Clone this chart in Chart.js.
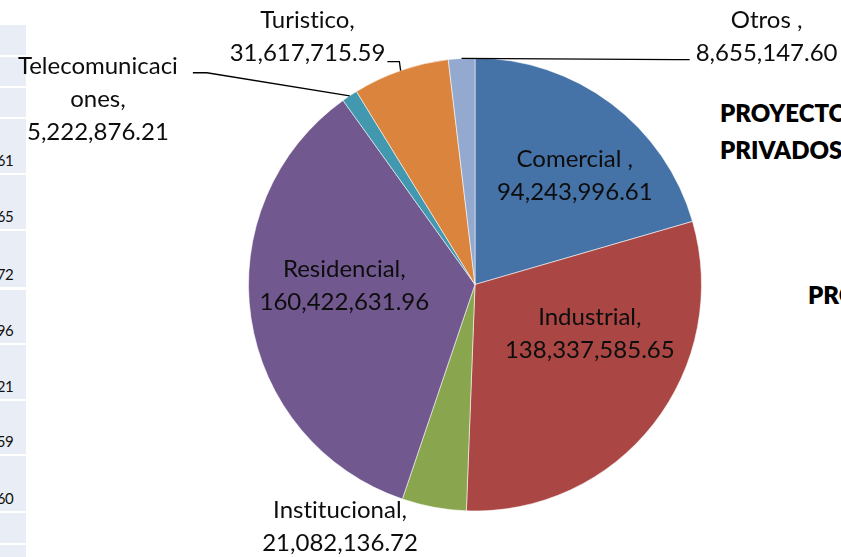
<!DOCTYPE html>
<html>
<head>
<meta charset="utf-8">
<script src="https://cdn.jsdelivr.net/npm/chart.js@4/dist/chart.umd.min.js"></script>
<style>
  html, body { margin: 0; padding: 0; background: #ffffff; }
  #wrap { position: relative; width: 841px; height: 557px; overflow: hidden; background: #ffffff; }
  #sheet { position: absolute; left: 0; top: 0; width: 841px; height: 557px; }
  .cell { position: absolute; left: 0; width: 26px; background: #E9EDF5; }
  .cell span { position: absolute; right: 13px; bottom: 5px; white-space: nowrap; font-variant-ligatures: none;
               font-family: "Lato", "Open Sans", sans-serif; font-size: 15px; letter-spacing: -0.6px;
               color: #111; line-height: 1; }
  .hdr { position: absolute; font-family: "Lato", "Open Sans", sans-serif; font-weight: 800;
         font-size: 24px; color: #000; white-space: nowrap; line-height: 37px; }
  #c { position: absolute; left: 0; top: 0; }
</style>
</head>
<body>
<div id="wrap">
  <div id="sheet"></div>
  <canvas id="c" width="841" height="557"></canvas>
</div>
<script>
// ---- data ----
const categories = ["Comercial ", "Industrial", "Institucional", "Residencial", "Telecomunicaciones", "Turistico", "Otros "];
const values = [94243996.61, 138337585.65, 21082136.72, 160422631.96, 5222876.21, 31617715.59, 8655147.60];
const colors = ["#4572A7", "#AA4643", "#89A54E", "#71588F", "#4198AF", "#DB843D", "#93A9CF"];
const sheetHeaderLines = ["PROYECTOS", "PRIVADOS"];
const sheetHeader2 = "PROYECTOS";

const fmt = v => v.toLocaleString("en-US", {minimumFractionDigits: 2, maximumFractionDigits: 2});
const noLig = s => s.replace(/t(?=[ifl])/g, "t\u200C").replace(/f(?=[ifl])/g, "f\u200C");

// ---- spreadsheet background (cells of the column behind the chart) ----
const sheet = document.getElementById("sheet");
const rows = [[25,30],[57,29],[88,29],[119,54],[175,54],[231,56],[290,53],[345,54],[401,53],[456,55],[513,30],[545,20]];
rows.forEach((r, i) => {
  const d = document.createElement("div");
  d.className = "cell";
  d.style.top = r[0] + "px";
  d.style.height = r[1] + "px";
  const vi = i - 3;
  if (vi >= 0 && vi < values.length) {
    const s = document.createElement("span");
    s.textContent = fmt(values[vi]);
    d.appendChild(s);
  }
  sheet.appendChild(d);
});
const h1 = document.createElement("div");
h1.className = "hdr"; h1.style.left = "720px"; h1.style.top = "94px";
h1.innerHTML = sheetHeaderLines.join("<br>");
sheet.appendChild(h1);
const h2 = document.createElement("div");
h2.className = "hdr"; h2.style.left = "808px"; h2.style.top = "276px";
h2.textContent = sheetHeader2;
sheet.appendChild(h2);

// ---- label layout (angle from top clockwise, radius factor, leader) ----
const labelLayout = [
  {ang: 42.5,  rf: 0.652},
  {ang: 113.1, rf: 0.551},
  {ang: 209.1, rf: 1.225},
  {ang: 269.6, rf: 0.577},
  {ang: 296.1, rf: 1.854, wrap: 14, leader: {side: "right", line: 0, gap: 15, dy: 6, elbow: 14}},
  {ang: 325.9, rf: 1.319, leader: {side: "right", line: 1, gap: 2, dy: 8, elbow: 12}},
  {ang: 49.7,  rf: 1.688, leader: {side: "left", line: 1, gap: 6, dy: 6, elbow: 14}}
];

const FONT = '24px "Lato", "Open Sans", sans-serif';
const LINE_H = 33;

const labelPlugin = {
  id: "pieLabels",
  afterDatasetsDraw(chart) {
    const ctx = chart.ctx;
    const meta = chart.getDatasetMeta(0);
    ctx.save();
    ctx.font = FONT;
    ctx.fillStyle = "#0d0d0d";
    ctx.strokeStyle = "#000";
    ctx.lineWidth = 1.3;
    ctx.textAlign = "center";
    ctx.textBaseline = "middle";
    meta.data.forEach((arc, i) => {
      const L = labelLayout[i];
      const {x, y, startAngle, endAngle, outerRadius} = arc.getProps(["x","y","startAngle","endAngle","outerRadius"], true);
      const th = -Math.PI / 2 + L.ang * Math.PI / 180;
      const cx = x + outerRadius * L.rf * Math.cos(th);
      const cy = y + outerRadius * L.rf * Math.sin(th);
      let name = categories[i] + ",";
      let lines = [];
      if (L.wrap && name.length > L.wrap) {
        lines.push(name.slice(0, L.wrap));
        lines.push(name.slice(L.wrap));
      } else lines.push(name);
      lines.push(fmt(values[i]));
      lines = lines.map(noLig);
      const y0 = cy - (lines.length - 1) * LINE_H / 2;
      lines.forEach((t, k) => ctx.fillText(t, cx, y0 + k * LINE_H));
      if (L.leader) {
        const ld = L.leader;
        const w = ctx.measureText(lines[ld.line]).width;
        const ly = y0 + ld.line * LINE_H + ld.dy;
        const ax = ld.side === "right" ? cx + w / 2 + ld.gap : cx - w / 2 - ld.gap;
        const ex = ld.side === "right" ? ax + ld.elbow : ax - ld.elbow;
        const mid = (startAngle + endAngle) / 2;
        const px = x + outerRadius * Math.cos(mid);
        const py = y + outerRadius * Math.sin(mid);
        ctx.beginPath();
        ctx.moveTo(px, py);
        ctx.lineTo(ex, ly);
        ctx.lineTo(ax, ly);
        ctx.stroke();
      }
    });
    ctx.restore();
  }
};

new Chart(document.getElementById("c"), {
  type: "pie",
  data: {
    labels: categories,
    datasets: [{
      data: values,
      backgroundColor: colors,
      borderColor: "rgba(255,255,255,0.55)",
      borderWidth: 1
    }]
  },
  options: {
    responsive: false,
    animation: false,
    layout: {padding: {left: 248, right: 139, top: 57, bottom: 45}},
    plugins: {legend: {display: false}, tooltip: {enabled: false}}
  },
  plugins: [labelPlugin]
});
</script>
</body>
</html>
